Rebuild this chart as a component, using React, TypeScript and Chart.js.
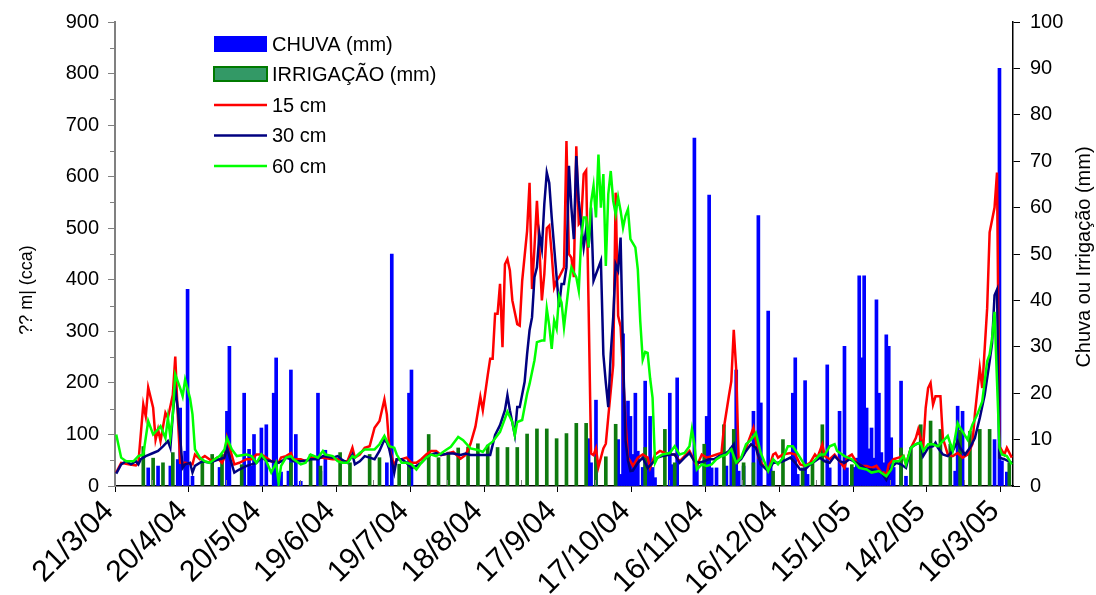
import React, { useEffect, useRef } from 'react';
import { Chart, registerables } from 'chart.js';

Chart.register(...registerables);

const FONT = "'Liberation Sans', Arial, Helvetica, sans-serif";

// x axis: days since 21/3/04
const xTickDays = [0, 30, 60, 90, 120, 150, 180, 210, 240, 270, 300, 330, 360];
const xTickLabels = ['21/3/04', '20/4/04', '20/5/04', '19/6/04', '19/7/04', '18/8/04', '17/9/04', '17/10/04', '16/11/04', '16/12/04', '15/1/05', '14/2/05', '16/3/05'];

const leftTitle = '?? m| (cca)';
const rightTitle = 'Chuva ou Irrigação (mm)';

// [day, mm]
const rain: [number, number][] = [
  [13, 3.9], [17, 4.3], [22, 4.3], [25, 5.7], [26, 16.8], [28, 7.5], [29, 42.4], [31, 2.1], [42, 4], [45, 16.1], [46, 30.1],
  [52, 20], [54, 7.9], [55, 4.3], [56, 11.1], [59, 12.5], [61, 13.2], [64, 20], [65, 27.6], [67, 3], [70, 3.2], [71, 25],
  [73, 11.1], [75, 1], [82, 20], [83, 3.2], [85, 7.7], [110, 5], [112, 50], [119, 20], [120, 25], [192, 10.2], [193, 5],
  [195, 18.5], [204, 10], [205, 2.5], [206, 32.8], [207, 9.7], [208, 18.3], [209, 15], [210, 6.8], [211, 20], [212, 7.5],
  [214, 4], [215, 22.6], [216, 5.4], [217, 15], [218, 4], [219, 1.8], [225, 20], [226, 4.6], [228, 23.3], [235, 75], [236, 5],
  [239, 4.3], [240, 15], [241, 62.7], [242, 3.9], [244, 3.9], [248, 4.3], [250, 8.2], [252, 25], [253, 3.2], [255, 4.3],
  [259, 16.1], [261, 58.3], [262, 17.9], [265, 37.7], [266, 5], [275, 20], [276, 27.6], [277, 2.5], [280, 22.7], [281, 2.5],
  [289, 26.1], [290, 3.9], [294, 16.1], [296, 30.1], [297, 3.9], [299, 2.5], [300, 4], [301, 6], [302, 45.3], [303, 27.6],
  [304, 45.3], [305, 16.8], [306, 8], [307, 12.5], [308, 6], [309, 40.1], [310, 20], [311, 7.2], [312, 5], [313, 32.6],
  [314, 30.1], [315, 10.4], [316, 4], [319, 22.6], [321, 2.1], [341, 3.2], [342, 17.2], [344, 16.1], [357, 10], [359, 90],
  [360, 5.4], [362, 3],
];

// [day, mm]
const irrigation: [number, number][] = [
  [11, 8.5], [15, 6], [19, 5], [23, 7.2], [35, 5.4], [39, 6.8], [43, 6.8], [51, 4.6], [71, 5], [79, 6.8], [83, 4.3],
  [91, 7.2], [95, 5], [103, 6.8], [107, 6.1], [115, 4.7], [119, 4.7], [127, 11.1], [131, 6.1], [135, 7.3], [139, 8.2],
  [143, 8.4], [147, 9.1], [151, 8.8], [155, 8.3], [159, 8.3], [163, 8.3], [167, 11.2], [171, 12.3], [175, 12.3],
  [179, 10.2], [183, 11.3], [187, 13.5], [191, 13.5], [195, 6.3], [199, 6.3], [203, 13.3], [215, 8.3], [223, 12.2],
  [227, 5], [239, 9], [247, 13.2], [251, 12.2], [255, 5], [259, 5], [267, 3.2], [271, 10], [279, 3.9], [283, 5],
  [287, 13.2], [299, 4.6], [319, 8.2], [323, 8.2], [327, 13.2], [331, 14], [335, 12.2], [339, 9], [343, 12],
  [347, 11.8], [351, 12.2], [355, 12.2], [363, 5],
];

// [day, cca]
const cm15: [number, number][] = [
  [0, 26], [2, 45], [5, 42], [8, 40], [9, 45], [11, 158], [12, 135], [13, 191], [15, 152], [16, 90], [17, 110], [18, 87],
  [20, 142], [21, 132], [23, 177], [24, 251], [25, 139], [26, 45], [28, 45], [31, 42], [32, 61], [34, 52], [36, 58],
  [39, 48], [41, 55], [43, 45], [44, 55], [45, 93], [48, 42], [50, 45], [53, 52], [55, 52], [57, 61], [59, 61], [61, 55],
  [63, 48], [66, 45], [67, 55], [69, 58], [71, 64], [72, 52], [75, 52], [77, 48], [79, 55], [82, 55], [84, 55], [88, 52],
  [90, 52], [92, 48], [94, 48], [96, 74], [97, 55], [99, 61], [101, 74], [103, 77], [105, 113], [107, 126], [109, 168],
  [110, 139], [111, 74], [113, 39], [114, 52], [116, 52], [118, 55], [120, 45], [122, 45], [124, 52], [126, 61], [128, 68],
  [130, 68], [132, 60], [134, 62], [137, 66], [140, 53], [142, 60], [144, 82], [146, 115], [148, 173], [149, 147],
  [151, 215], [152, 247], [153, 247], [154, 334], [155, 334], [156, 392], [157, 269], [158, 430], [159, 440], [160, 418],
  [161, 360], [163, 314], [164, 311], [165, 398], [167, 495], [168, 588], [169, 382], [170, 463], [171, 553], [172, 463],
  [173, 360], [174, 411], [175, 500], [176, 505], [177, 450], [178, 385], [179, 398], [180, 405], [182, 424], [183, 669],
  [184, 450], [185, 443], [186, 405], [187, 659], [188, 508], [189, 514], [190, 605], [191, 612], [192, 347], [193, 63],
  [194, 60], [195, 73], [196, 37], [198, 73], [199, 82], [200, 134], [202, 235], [203, 569], [204, 330], [205, 309],
  [206, 220], [207, 126], [208, 55], [209, 48], [210, 39], [212, 55], [214, 61], [216, 55], [217, 35], [219, 61], [221, 68],
  [223, 64], [225, 61], [227, 61], [229, 48], [231, 58], [233, 68], [236, 39], [238, 61], [240, 55], [242, 58], [244, 61],
  [246, 64], [247, 113], [249, 174], [250, 203], [251, 303], [252, 226], [253, 48], [255, 61], [256, 74], [257, 87],
  [259, 113], [260, 87], [261, 55], [263, 39], [265, 29], [267, 61], [268, 64], [269, 55], [271, 61], [274, 64], [276, 61],
  [278, 42], [280, 39], [282, 45], [284, 61], [285, 55], [287, 81], [288, 58], [290, 52], [292, 61], [294, 48], [296, 35],
  [297, 55], [299, 61], [301, 45], [303, 39], [305, 39], [307, 35], [309, 39], [311, 26], [312, 26], [313, 20], [314, 42],
  [316, 52], [318, 55], [320, 58], [321, 42], [323, 74], [325, 93], [326, 110], [328, 74], [329, 151], [330, 190],
  [331, 200], [332, 158], [333, 174], [335, 174], [336, 93], [338, 61], [340, 58], [342, 64], [344, 55], [346, 61],
  [348, 81], [349, 139], [351, 229], [352, 190], [353, 267], [354, 345], [355, 492], [357, 540], [358, 608], [359, 77],
  [361, 61], [362, 74], [364, 55],
];

const cm30: [number, number][] = [
  [0, 24], [2, 42], [4, 48], [6, 42], [8, 48], [9, 42], [10, 52], [12, 58], [15, 64], [17, 68], [19, 77], [21, 87], [22, 74],
  [23, 139], [24, 190], [25, 151], [26, 93], [27, 35], [28, 42], [30, 45], [31, 26], [32, 39], [35, 48], [38, 45], [42, 52],
  [44, 55], [45, 74], [48, 26], [50, 32], [53, 39], [55, 42], [57, 45], [59, 55], [61, 50], [63, 48], [66, 45], [68, 50],
  [69, 55], [71, 52], [72, 48], [75, 48], [78, 50], [79, 52], [82, 52], [84, 58], [88, 55], [90, 58], [92, 50], [94, 45],
  [96, 61], [97, 42], [99, 48], [101, 58], [103, 55], [105, 52], [107, 68], [109, 90], [110, 84], [111, 71], [113, 26],
  [114, 52], [116, 52], [118, 45], [120, 35], [122, 39], [124, 45], [126, 55], [128, 61], [130, 64], [132, 60], [135, 63],
  [137, 63], [140, 60], [142, 63], [144, 60], [147, 60], [149, 60], [152, 60], [154, 99], [156, 118], [158, 147],
  [159, 176], [160, 147], [162, 99], [163, 153], [164, 153], [166, 202], [167, 256], [168, 302], [169, 327], [170, 405],
  [171, 424], [172, 489], [173, 460], [174, 547], [175, 608], [176, 588], [177, 521], [179, 405], [180, 347], [181, 392],
  [182, 392], [183, 424], [184, 621], [185, 540], [186, 479], [187, 640], [188, 553], [189, 508], [190, 463], [191, 499],
  [192, 463], [193, 540], [194, 398], [195, 411], [197, 437], [198, 255], [199, 200], [200, 153], [201, 256], [202, 327],
  [203, 430], [204, 418], [205, 482], [206, 256], [207, 89], [208, 50], [209, 29], [210, 30], [212, 45], [214, 55],
  [216, 35], [218, 45], [220, 55], [222, 58], [225, 61], [227, 61], [229, 45], [231, 55], [233, 64], [235, 48], [237, 45],
  [239, 48], [241, 52], [243, 52], [245, 58], [247, 61], [249, 68], [251, 81], [252, 45], [254, 52], [256, 68], [258, 81],
  [260, 74], [262, 42], [265, 29], [267, 45], [269, 45], [271, 48], [274, 55], [276, 45], [278, 32], [280, 32], [282, 42],
  [284, 48], [286, 55], [288, 48], [290, 45], [292, 58], [294, 48], [296, 45], [298, 52], [301, 45], [303, 39], [305, 32],
  [307, 32], [309, 29], [311, 26], [313, 12], [315, 35], [317, 45], [319, 42], [321, 35], [323, 74], [325, 81], [327, 85],
  [328, 58], [330, 74], [332, 77], [333, 84], [334, 74], [336, 61], [338, 58], [340, 68], [342, 87], [343, 74], [345, 61],
  [347, 74], [349, 93], [351, 132], [353, 177], [355, 242], [356, 277], [357, 370], [358, 381], [359, 55], [361, 52],
  [364, 45],
];

const cm60: [number, number][] = [
  [0, 100], [2, 55], [4, 48], [7, 48], [9, 58], [11, 61], [13, 126], [15, 100], [17, 110], [18, 116], [20, 93], [21, 132],
  [22, 95], [23, 139], [24, 216], [26, 190], [27, 174], [28, 206], [30, 170], [31, 139], [32, 71], [34, 55], [36, 48],
  [38, 45], [40, 52], [42, 58], [44, 71], [45, 93], [47, 71], [49, 58], [53, 61], [55, 58], [57, 45], [59, 61], [61, 48],
  [63, 26], [65, 45], [66, 6], [67, 39], [69, 55], [71, 58], [72, 52], [75, 42], [77, 45], [79, 61], [82, 55], [84, 68],
  [85, 61], [88, 58], [90, 48], [92, 45], [94, 45], [96, 58], [97, 55], [99, 64], [101, 71], [103, 71], [105, 71], [107, 81],
  [109, 97], [110, 87], [111, 77], [113, 74], [114, 61], [116, 45], [118, 45], [120, 42], [122, 32], [124, 45], [126, 55],
  [128, 61], [130, 58], [132, 63], [134, 70], [136, 76], [139, 95], [141, 89], [144, 73], [147, 70], [149, 66], [151, 79],
  [153, 86], [156, 105], [159, 144], [161, 124], [162, 99], [163, 124], [165, 128], [167, 179], [168, 198], [170, 244],
  [171, 279], [173, 282], [174, 282], [175, 344], [176, 311], [177, 266], [178, 321], [179, 305], [180, 369], [181, 356],
  [182, 308], [184, 392], [185, 424], [186, 414], [187, 405], [188, 379], [189, 482], [190, 521], [191, 521], [192, 463],
  [193, 550], [194, 582], [195, 521], [196, 643], [197, 540], [198, 605], [199, 427], [200, 566], [201, 611], [202, 553],
  [203, 527], [204, 560], [205, 534], [206, 501], [207, 524], [208, 537], [209, 479], [211, 463], [212, 420], [213, 319],
  [214, 245], [215, 260], [216, 258], [217, 209], [218, 171], [219, 45], [220, 55], [222, 61], [225, 64], [227, 77],
  [229, 61], [231, 64], [233, 77], [234, 110], [235, 81], [236, 32], [238, 42], [240, 39], [242, 42], [244, 52], [246, 58],
  [248, 61], [250, 71], [252, 45], [254, 55], [256, 81], [258, 90], [260, 103], [262, 64], [265, 29], [267, 52], [269, 42],
  [271, 55], [273, 77], [275, 77], [278, 55], [280, 39], [283, 45], [286, 61], [288, 61], [290, 77], [292, 81], [293, 68],
  [296, 58], [299, 52], [302, 35], [305, 32], [307, 26], [310, 29], [313, 19], [315, 32], [316, 48], [318, 48], [320, 58],
  [321, 42], [323, 74], [325, 81], [327, 84], [328, 68], [330, 81], [332, 81], [334, 77], [336, 87], [338, 97], [340, 68],
  [342, 122], [343, 113], [346, 90], [348, 119], [350, 139], [352, 164], [354, 242], [355, 255], [356, 287], [357, 338],
  [358, 203], [359, 74], [360, 61], [362, 58], [364, 42],
];

const toXY = (arr: [number, number][]) => arr.map(([d, v]) => ({ x: d + 0.5, y: v }));

const overlayPlugin = {
  id: 'overlay',
  afterDraw(chart: any) {
    const { ctx, chartArea: ca, scales } = chart;
    ctx.save();
    // minor ticks
    ctx.strokeStyle = '#808080';
    ctx.lineWidth = 1;
    ctx.beginPath();
    for (let d = 15; d < 365; d += 30) {
      const px = Math.round(scales.x.getPixelForValue(d)) + 0.5;
      ctx.moveTo(px, ca.bottom - 1);
      ctx.lineTo(px, ca.bottom - 6);
    }
    for (let v = 50; v < 900; v += 100) {
      const py = Math.round(scales.y.getPixelForValue(v)) + 0.5;
      ctx.moveTo(ca.left - 1, py);
      ctx.lineTo(ca.left - 5, py);
    }
    ctx.stroke();

    // axis titles
    ctx.fillStyle = '#000';
    ctx.textAlign = 'center';
    ctx.textBaseline = 'middle';
    ctx.save();
    ctx.font = `18px ${FONT}`;
    ctx.translate(27, 290);
    ctx.rotate(-Math.PI / 2);
    ctx.fillText(leftTitle, 0, 0);
    ctx.restore();
    ctx.save();
    ctx.font = `20px ${FONT}`;
    ctx.translate(1084, 257);
    ctx.rotate(-Math.PI / 2);
    ctx.fillText(rightTitle, 0, 0);
    ctx.restore();

    // legend
    const ds = chart.data.datasets;
    const byLabel = (l: string) => ds.find((d: any) => d.label === l);
    const items = ['CHUVA (mm)', 'IRRIGAÇÃO (mm)', '15 cm', '30 cm', '60 cm'];
    const ys = [44, 74, 105, 135.5, 166];
    ctx.font = `20px ${FONT}`;
    ctx.textAlign = 'left';
    items.forEach((lab, i) => {
      const d = byLabel(lab);
      const y = ys[i];
      if (d.type === 'bar') {
        if (i === 0) {
          ctx.fillStyle = '#0000FF';
          ctx.fillRect(214, y - 8, 53, 16);
        } else {
          ctx.fillStyle = '#339966';
          ctx.fillRect(214, y - 7, 53, 14);
          ctx.strokeStyle = '#007A00';
          ctx.lineWidth = 2;
          ctx.strokeRect(214, y - 7, 53, 14);
        }
      } else {
        ctx.strokeStyle = d.borderColor;
        ctx.lineWidth = 2.5;
        ctx.beginPath();
        ctx.moveTo(214, y);
        ctx.lineTo(267, y);
        ctx.stroke();
      }
      ctx.fillStyle = '#000';
      ctx.fillText(lab, 272, y + 1);
    });
    ctx.restore();
  },
};

export default function App() {
  const ref = useRef<HTMLCanvasElement>(null);
  useEffect(() => {
    document.body.style.margin = '0';
    const tickFont = { family: FONT, size: 20 };
    const chart = new Chart(ref.current as HTMLCanvasElement, {
      type: 'bar',
      data: {
        datasets: [
          { type: 'line', label: '60 cm', data: toXY(cm60), borderColor: '#00FF00', borderWidth: 2.5, pointRadius: 0, tension: 0, yAxisID: 'y', order: 0 } as any,
          { type: 'line', label: '30 cm', data: toXY(cm30), borderColor: '#000080', borderWidth: 2.5, pointRadius: 0, tension: 0, yAxisID: 'y', order: 1 } as any,
          { type: 'line', label: '15 cm', data: toXY(cm15), borderColor: '#FF0000', borderWidth: 2.5, pointRadius: 0, tension: 0, yAxisID: 'y', order: 2 } as any,
          { type: 'bar', label: 'IRRIGAÇÃO (mm)', data: toXY(irrigation), backgroundColor: '#0E7A0E', barThickness: 3, grouped: false, yAxisID: 'y2', order: 3 } as any,
          { type: 'bar', label: 'CHUVA (mm)', data: toXY(rain), backgroundColor: '#0000FF', barThickness: 3, grouped: false, yAxisID: 'y2', order: 4 } as any,
        ],
      },
      options: {
        responsive: false,
        animation: false,
        devicePixelRatio: 1,
        layout: { padding: { top: 21, left: 0, right: 0, bottom: 0 } },
        plugins: { legend: { display: false }, tooltip: { enabled: false } },
        scales: {
          x: {
            type: 'linear',
            min: 0,
            max: 365,
            offset: false,
            grid: { offset: false, drawOnChartArea: false, tickLength: 6, color: '#000' },
            border: { color: '#000', width: 1.5 },
            ticks: {
              autoSkip: false,
              minRotation: 45,
              maxRotation: 45,
              padding: 2,
              labelOffset: -6,
              font: { family: FONT, size: 30 },
              color: '#000',
              callback: (v: any) => {
                const i = xTickDays.indexOf(Number(v));
                return i >= 0 ? xTickLabels[i] : '';
              },
            },
            afterBuildTicks: (s: any) => {
              s.ticks = xTickDays.map((v) => ({ value: v }));
            },
            afterFit: (s: any) => {
              s.height = 109;
            },
          },
          y: {
            position: 'left',
            min: 0,
            max: 900,
            ticks: { stepSize: 100, padding: 9, font: tickFont, color: '#000' },
            grid: { drawOnChartArea: false, tickLength: 7, color: '#808080' },
            border: { color: '#808080', width: 2 },
            afterFit: (s: any) => {
              s.width = 115;
            },
          },
          y2: {
            position: 'right',
            min: 0,
            max: 100,
            ticks: { stepSize: 10, padding: 10, font: tickFont, color: '#000' },
            grid: { drawOnChartArea: false, tickLength: 7, color: '#000' },
            border: { color: '#000', width: 1.5 },
            afterFit: (s: any) => {
              s.width = 83;
            },
          },
        },
      } as any,
      plugins: [overlayPlugin],
    });
    return () => chart.destroy();
  }, []);
  return (
    <div style={{ width: 1096, height: 595 }}>
      <canvas ref={ref} width={1096} height={595} style={{ display: 'block' }} />
    </div>
  );
}
